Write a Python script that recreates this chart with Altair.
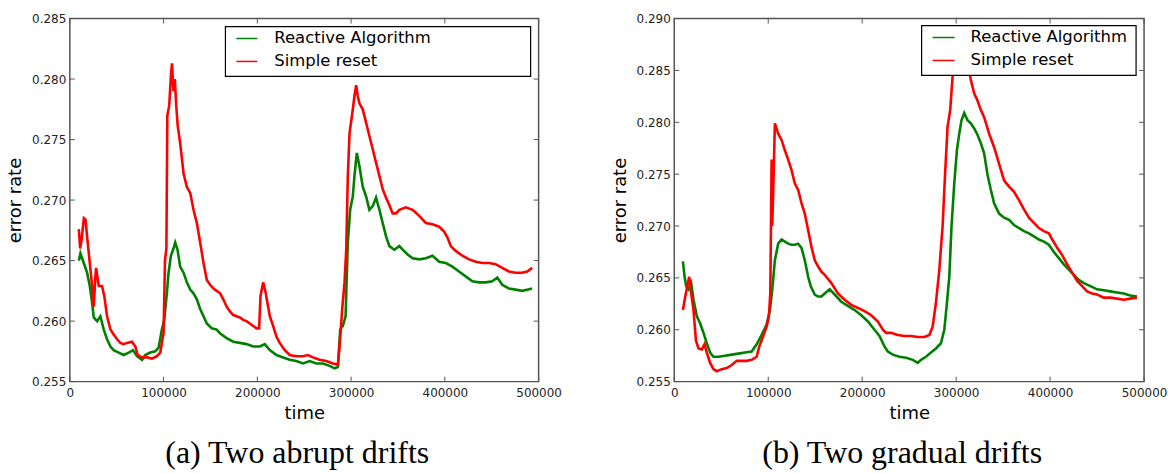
import altair as alt
import pandas as pd

# ---------------- data ----------------
series_names = ["Reactive Algorithm", "Simple reset"]
series_colors = ["#008000", "#ff0000"]

x_ticks = [0, 100000, 200000, 300000, 400000, 500000]
y_ticks_a = [0.255, 0.260, 0.265, 0.270, 0.275, 0.280, 0.285]
y_ticks_b = [0.255, 0.260, 0.265, 0.270, 0.275, 0.280, 0.285, 0.290]

# (a) Two abrupt drifts -- Simple reset
a_reset_t = [9600, 11000, 12500, 15000, 16700, 18400, 21300, 23800, 25500, 27300, 28000, 30900, 34400, 36900,
             39700, 43300, 46800, 50400, 53900, 57400, 61000, 66300, 69900, 72300, 77000, 82300, 87600, 92900,
             96500, 98200, 100000, 101500, 103000, 104000, 106000, 108000, 109000, 110500, 112000, 113500, 115000,
             117700, 121300, 124800, 128400, 131900, 135500, 139000, 142600, 146100, 149600, 153200, 156700,
             160300, 163700, 167200, 170800, 174300, 177900, 181400, 184900, 188500, 193800, 199100, 201900,
             203400, 206200, 209000, 210800, 213300, 216800, 220400, 223900, 229200, 234500, 241600, 248700,
             254000, 259300, 266400, 273500, 280600, 285900, 287700, 290500, 293000, 294800, 296500, 298300,
             301800, 303600, 305400, 307100, 308900, 312400, 316000, 319500, 323100, 326600, 330200, 333700,
             337300, 340800, 344300, 347900, 351400, 358500, 365600, 372700, 379800, 386800, 393900, 399200,
             402800, 406300, 411600, 418700, 425800, 432900, 440000, 447100, 454200, 461200, 468300, 475400,
             482500, 487800, 493100]
a_reset_err = [0.2676, 0.2660, 0.2667, 0.2685, 0.2684, 0.2670, 0.2648, 0.2629, 0.2612, 0.2637, 0.2644, 0.2629,
               0.2629, 0.2620, 0.2604, 0.2593, 0.2589, 0.2585, 0.2582, 0.2581, 0.2582, 0.2583, 0.2579, 0.2572,
               0.2570, 0.2570, 0.2569, 0.2571, 0.2574, 0.2582, 0.2590, 0.2650, 0.2660, 0.2770, 0.2778, 0.2805,
               0.2813, 0.2790, 0.2800, 0.2778, 0.2762, 0.2747, 0.2722, 0.2711, 0.2706, 0.2692, 0.2681, 0.2665,
               0.2648, 0.2634, 0.2630, 0.2627, 0.2625, 0.2623, 0.2618, 0.2612, 0.2608, 0.2605, 0.2604, 0.2603,
               0.2601, 0.2600, 0.2597, 0.2594, 0.2594, 0.2621, 0.2632, 0.2623, 0.2615, 0.2604, 0.2596, 0.2587,
               0.2582, 0.2576, 0.2572, 0.2571, 0.2571, 0.2572, 0.2570, 0.2568, 0.2567, 0.2565, 0.2564, 0.2579,
               0.2610, 0.2632, 0.2659, 0.2720, 0.2755, 0.2775, 0.2786, 0.2795, 0.2786, 0.2780, 0.2775, 0.2764,
               0.2753, 0.2742, 0.2731, 0.2720, 0.2709, 0.2702, 0.2696, 0.2689, 0.2689, 0.2692, 0.2694, 0.2692,
               0.2687, 0.2681, 0.2680, 0.2678, 0.2674, 0.2669, 0.2662, 0.2658, 0.2654, 0.2651, 0.2649, 0.2648,
               0.2648, 0.2647, 0.2644, 0.2641, 0.2640, 0.2640, 0.2641, 0.2644]

# (a) Two abrupt drifts -- Reactive Algorithm
a_react_t = [9600, 11300, 14900, 18400, 21300, 23800, 25500, 29100, 32600, 36200, 39700, 43300, 46800, 52100,
             57400, 62800, 67400, 71600, 77000, 80500, 85800, 91100, 94700, 98200, 100700, 103500, 105300,
             107800, 110600, 112400, 114900, 117700, 121300, 124800, 128400, 131900, 135500, 139000, 142600,
             146100, 151400, 156700, 160100, 167200, 174300, 181400, 188500, 195600, 202700, 208000, 213300,
             220400, 227500, 234500, 241600, 248700, 255800, 262900, 270000, 277100, 282400, 285900, 288400,
             291200, 294100, 296500, 299000, 301800, 303600, 306100, 308900, 312400, 316000, 319500, 323100,
             326600, 330200, 333700, 337300, 340800, 346100, 351400, 355000, 360300, 365600, 372700, 379800,
             386800, 393900, 401000, 408000, 415100, 422200, 429300, 436400, 443500, 450600, 455900, 461200,
             468300, 475400, 482500, 487800, 493100]
a_react_err = [0.2650, 0.2656, 0.2648, 0.2640, 0.2629, 0.2615, 0.2603, 0.2600, 0.2604, 0.2593, 0.2585, 0.2579,
               0.2576, 0.2574, 0.2572, 0.2574, 0.2576, 0.2571, 0.2568, 0.2572, 0.2574, 0.2575, 0.2578, 0.2593,
               0.2601, 0.2623, 0.2640, 0.2654, 0.2660, 0.2665, 0.2659, 0.2645, 0.2640, 0.2632, 0.2626, 0.2623,
               0.2618, 0.2610, 0.2604, 0.2598, 0.2594, 0.2593, 0.2590, 0.2586, 0.2583, 0.2582, 0.2581, 0.2579,
               0.2579, 0.2581, 0.2576, 0.2572, 0.2570, 0.2568, 0.2567, 0.2565, 0.2567, 0.2565, 0.2565, 0.2563,
               0.2561, 0.2562, 0.2593, 0.2596, 0.2604, 0.2665, 0.2692, 0.2703, 0.2720, 0.2739, 0.2728, 0.2711,
               0.2703, 0.2692, 0.2695, 0.2702, 0.2692, 0.2681, 0.2670, 0.2662, 0.2659, 0.2662, 0.2659, 0.2655,
               0.2652, 0.2651, 0.2652, 0.2654, 0.2649, 0.2648, 0.2645, 0.2641, 0.2637, 0.2633, 0.2632, 0.2632,
               0.2633, 0.2636, 0.2630, 0.2627, 0.2626, 0.2625, 0.2626, 0.2627]

# (b) Two gradual drifts -- Simple reset
b_reset_t = [9200, 11700, 14500, 15900, 18000, 20500, 23000, 25800, 29300, 32200, 34600, 38200, 41700, 45200,
             50500, 55800, 61200, 66500, 71800, 77100, 82400, 87700, 90500, 94700, 98300, 100700, 102200, 103600,
             104300, 105500, 107100, 110600, 114200, 117700, 121200, 124800, 128300, 131800, 135400, 138900,
             142500, 146000, 149500, 153100, 156600, 160100, 167200, 174200, 181300, 188400, 195500, 202500,
             209600, 216700, 222000, 225500, 230800, 237900, 245000, 252000, 259100, 266200, 271500, 275000,
             278500, 282100, 285600, 288100, 290900, 293700, 296200, 299700, 305000, 310000, 315600, 319200,
             322700, 326200, 329800, 335100, 340400, 345700, 351000, 356300, 361600, 366900, 372200, 377500,
             382800, 388100, 393400, 398700, 402300, 407600, 412900, 418200, 423500, 428800, 434100, 439400,
             444700, 450000, 457100, 464100, 471200, 478300, 485300, 492400]
b_reset_err = [0.2619, 0.2632, 0.2645, 0.2651, 0.2635, 0.2619, 0.2590, 0.2582, 0.2581, 0.2586, 0.2578, 0.2568,
               0.2562, 0.2560, 0.2562, 0.2563, 0.2566, 0.2570, 0.2570, 0.2570, 0.2571, 0.2574, 0.2584, 0.2594,
               0.2603, 0.2613, 0.2635, 0.2764, 0.2700, 0.2740, 0.2799, 0.2789, 0.2783, 0.2773, 0.2764, 0.2754,
               0.2741, 0.2735, 0.2722, 0.2712, 0.2696, 0.2680, 0.2667, 0.2661, 0.2656, 0.2653, 0.2645, 0.2635,
               0.2629, 0.2624, 0.2621, 0.2618, 0.2614, 0.2608, 0.2600, 0.2597, 0.2597, 0.2595, 0.2594, 0.2594,
               0.2593, 0.2593, 0.2595, 0.2603, 0.2626, 0.2658, 0.2700, 0.2748, 0.2796, 0.2812, 0.2844, 0.2876,
               0.2880, 0.2870, 0.2841, 0.2828, 0.2821, 0.2812, 0.2805, 0.2789, 0.2776, 0.2760, 0.2744, 0.2738,
               0.2733, 0.2725, 0.2716, 0.2708, 0.2703, 0.2698, 0.2695, 0.2693, 0.2687, 0.2679, 0.2672, 0.2663,
               0.2655, 0.2647, 0.2642, 0.2637, 0.2635, 0.2634, 0.2631, 0.2631, 0.2630, 0.2629, 0.2630, 0.2631]

# (b) Two gradual drifts -- Reactive Algorithm
b_react_t = [9200, 11000, 12700, 15200, 18000, 20500, 24000, 27600, 31100, 34600, 38200, 41700, 47000, 54100,
             61200, 68200, 75300, 82400, 87700, 93000, 98300, 101800, 104300, 107100, 110600, 114200, 117700,
             121200, 124800, 128300, 131800, 135400, 138900, 142500, 145300, 149500, 153100, 156600, 160100,
             165400, 170700, 177800, 184800, 191900, 199000, 206100, 213100, 218400, 223700, 227300, 232600,
             239600, 246700, 253800, 259100, 262600, 267900, 273200, 278500, 283800, 287400, 290200, 292700,
             295100, 298000, 300800, 303300, 305700, 308600, 312100, 315600, 319200, 322700, 326200, 329800,
             333300, 336900, 340400, 345700, 351000, 356300, 361600, 366900, 372200, 377500, 382800, 388100,
             393400, 398700, 404000, 409300, 414600, 419900, 425200, 430500, 435900, 442900, 450000, 457100,
             464100, 471200, 478300, 485300, 492400]
b_react_err = [0.2666, 0.2651, 0.2642, 0.2639, 0.2645, 0.2629, 0.2613, 0.2606, 0.2597, 0.2587, 0.2578, 0.2574,
               0.2574, 0.2575, 0.2576, 0.2577, 0.2578, 0.2579, 0.2586, 0.2595, 0.2605, 0.2619, 0.2639, 0.2667,
               0.2683, 0.2687, 0.2685, 0.2683, 0.2682, 0.2682, 0.2683, 0.2679, 0.2667, 0.2651, 0.2642, 0.2634,
               0.2632, 0.2632, 0.2635, 0.2639, 0.2634, 0.2627, 0.2623, 0.2619, 0.2614, 0.2608, 0.2600, 0.2594,
               0.2584, 0.2579, 0.2576, 0.2574, 0.2573, 0.2571, 0.2568, 0.2571, 0.2574, 0.2578, 0.2582, 0.2587,
               0.2600, 0.2626, 0.2651, 0.2700, 0.2741, 0.2773, 0.2789, 0.2802, 0.2809, 0.2802, 0.2799, 0.2794,
               0.2788, 0.2780, 0.2770, 0.2750, 0.2735, 0.2722, 0.2712, 0.2708, 0.2706, 0.2701, 0.2698, 0.2695,
               0.2693, 0.2690, 0.2687, 0.2685, 0.2682, 0.2675, 0.2669, 0.2663, 0.2658, 0.2653, 0.2648, 0.2645,
               0.2642, 0.2639, 0.2638, 0.2637, 0.2636, 0.2635, 0.2633, 0.2632]

captions = ["(a) Two abrupt drifts", "(b) Two gradual drifts"]


def long_df(react_t, react_err, reset_t, reset_err):
    a = pd.DataFrame({"time": react_t, "error": react_err, "series": series_names[0]})
    b = pd.DataFrame({"time": reset_t, "error": reset_err, "series": series_names[1]})
    return pd.concat([a, b], ignore_index=True)


FRAME = "#555555"
W_A, W_B, H = 470, 471, 364


def panel(df, y_ticks, width, caption, legend_box, legend_line_x, legend_text_x, legend_rows):
    xs = alt.Scale(domain=[0, 500000], nice=False, zero=False)
    ys = alt.Scale(domain=[y_ticks[0], y_ticks[-1]], nice=False, zero=False)
    x_axis = alt.Axis(values=x_ticks, format="d", title="time", labelFlush=False, labelOverlap=False,
                      labelPadding=6, titlePadding=6)
    y_axis = alt.Axis(values=y_ticks, format=".3f", title="error rate")

    lines = alt.Chart(df).mark_line(strokeWidth=2.6, clip=True).encode(
        x=alt.X("time:Q", scale=xs, axis=x_axis),
        y=alt.Y("error:Q", scale=ys, axis=y_axis),
        color=alt.Color("series:N", scale=alt.Scale(domain=series_names, range=series_colors),
                        legend=None),
    )

    xt = pd.DataFrame({"time": x_ticks})
    yt = pd.DataFrame({"error": y_ticks})
    tick_bottom = alt.Chart(xt).mark_rule(color=FRAME, strokeWidth=1).encode(
        x=alt.X("time:Q", scale=xs, axis=x_axis), y=alt.value(H), y2=alt.value(H - 5))
    tick_top = alt.Chart(xt).mark_rule(color=FRAME, strokeWidth=1).encode(
        x=alt.X("time:Q", scale=xs, axis=x_axis), y=alt.value(0), y2=alt.value(5))
    tick_left = alt.Chart(yt).mark_rule(color=FRAME, strokeWidth=1).encode(
        y=alt.Y("error:Q", scale=ys, axis=y_axis), x=alt.value(0), x2=alt.value(5))
    tick_right = alt.Chart(yt).mark_rule(color=FRAME, strokeWidth=1).encode(
        y=alt.Y("error:Q", scale=ys, axis=y_axis), x=alt.value(width), x2=alt.value(width - 5))

    one = pd.DataFrame({"k": [0]})
    bx1, bx2, by1, by2 = legend_box
    box = alt.Chart(one).mark_rect(fill="white", stroke="black", strokeWidth=1.2).encode(
        x=alt.value(bx1), x2=alt.value(bx2), y=alt.value(by1), y2=alt.value(by2))
    layers = [lines, tick_bottom, tick_top, tick_left, tick_right, box]
    for name, col, ry in zip(series_names, series_colors, legend_rows):
        lab = pd.DataFrame({"label": [name]})
        layers.append(alt.Chart(lab).mark_rule(color=col, strokeWidth=1.5).encode(
            x=alt.value(legend_line_x[0]), x2=alt.value(legend_line_x[1]), y=alt.value(ry)))
        layers.append(alt.Chart(lab).mark_text(align="left", baseline="middle", font="DejaVu Sans",
                                               fontSize=16.5, color="black").encode(
            x=alt.value(legend_text_x), y=alt.value(ry), text="label:N"))

    return alt.layer(*layers).properties(
        width=width, height=H,
        title=alt.TitleParams(caption, orient="bottom", anchor="middle", font="Liberation Serif",
                              fontSize=32, fontWeight="normal", color="black", offset=16, dx=-7),
    )


left = panel(long_df(a_react_t, a_react_err, a_reset_t, a_reset_err), y_ticks_a, W_A, captions[0],
             (156, 462, 8, 58), (167, 188), 205, (20, 43))
right = panel(long_df(b_react_t, b_react_err, b_reset_t, b_reset_err), y_ticks_b, W_B, captions[1],
              (248, 463, 7, 57), (259, 281), 297, (19, 42))

chart = alt.hconcat(left, right, spacing=47).properties(
    padding={"left": 5, "top": 11, "right": 0, "bottom": 0},
    background="white",
).configure_view(stroke=FRAME, strokeWidth=1.5).configure_axis(
    labelFont="DejaVu Sans", labelFontSize=12, labelColor="#222222", labelPadding=4,
    titleFont="DejaVu Sans", titleFontSize=18, titleFontWeight="normal", titleColor="black",
    ticks=False, domain=False, grid=False,
).configure_axisY(titlePadding=7)

chart.save("out.html", embed_options={"renderer": "svg", "actions": False})
